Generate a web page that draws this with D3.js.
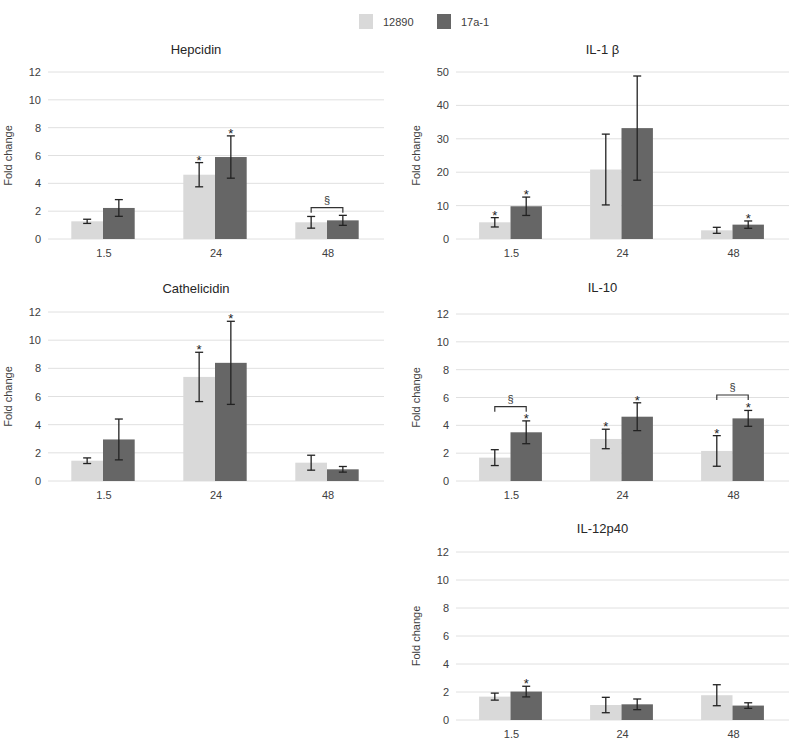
<!DOCTYPE html>
<html><head>
<meta charset="utf-8">
<script src="https://d3js.org/d3.v7.min.js"></script>
<style>
  body { margin: 0; background: #fff; }
  svg { font-family: "Liberation Sans", Arial, sans-serif; }
  .grid line { stroke: #e0e0e0; stroke-width: 1px; }
  .tick-label { font-size: 11px; fill: #404040; }
  .title { font-size: 13px; fill: #262626; }
</style>
</head>
<body>
<svg id="chart" width="803" height="740"></svg>
<script>
// categories (hours) and strains
const categories = ["1.5", "24", "48"];
const series = ["12890", "17a-1"];
const seriesColors = ["#d9d9d9", "#666666"];

// Hepcidin
const hepcidinMean = [[1.27, 4.62, 1.20], [2.23, 5.89, 1.34]];
const hepcidinErr = [[0.15, 0.87, 0.42], [0.60, 1.52, 0.36]];
const hepcidinStars = [[false, true, false], [false, true, false]];
const hepcidinBrackets = [{ cat: 2, y: 2.25 }];

// IL-1 beta
const il1Mean = [[5.0, 20.8, 2.6], [9.8, 33.2, 4.3]];
const il1Err = [[1.4, 10.6, 0.9], [2.75, 15.6, 1.1]];
const il1Stars = [[true, false, false], [true, false, true]];
const il1Brackets = [];

// Cathelicidin
const cathMean = [[1.44, 7.39, 1.30], [2.95, 8.39, 0.83]];
const cathErr = [[0.20, 1.75, 0.53], [1.45, 2.95, 0.20]];
const cathStars = [[false, true, false], [false, true, false]];
const cathBrackets = [];

// IL-10
const il10Mean = [[1.68, 3.02, 2.16], [3.50, 4.62, 4.50]];
const il10Err = [[0.57, 0.70, 1.10], [0.82, 1.00, 0.57]];
const il10Stars = [[false, true, true], [true, true, true]];
const il10Brackets = [{ cat: 0, y: 5.34 }, { cat: 2, y: 6.18 }];

// IL-12p40
const il12Mean = [[1.67, 1.07, 1.77], [2.03, 1.12, 1.03]];
const il12Err = [[0.25, 0.55, 0.75], [0.38, 0.38, 0.20]];
const il12Stars = [[false, false, false], [true, false, false]];
const il12Brackets = [];

const ticks12 = [0, 2, 4, 6, 8, 10, 12];
const ticks50 = [0, 10, 20, 30, 40, 50];

const svg = d3.select("#chart");

// legend
const legend = svg.append("g");
series.forEach((s, i) => {
  const lx = 359 + i * 78;
  legend.append("rect").attr("x", lx).attr("y", 14).attr("width", 14).attr("height", 15)
    .attr("fill", seriesColors[i]);
  legend.append("text").attr("x", lx + 24).attr("y", 26).attr("class", "tick-label").text(s);
});

function drawPanel(p) {
  const g = svg.append("g");
  const y = d3.scaleLinear().domain([0, p.max]).range([p.bottom, p.top]);
  const x = d3.scaleBand().domain(categories).range([p.left, p.right]);
  const step = x.step();
  const barW = step * 0.283;
  const barX = (ci, si) => x(categories[ci]) + step / 2 - barW + si * barW - 1;

  g.append("text").attr("class", "title").attr("text-anchor", "middle")
    .attr("x", (p.left + p.right) / 2 - 20).attr("y", p.titleY).text(p.title);

  // gridlines + y tick labels
  const grid = g.append("g").attr("class", "grid");
  grid.selectAll("line").data(p.ticks).join("line")
    .attr("x1", p.left).attr("x2", p.right)
    .attr("y1", d => y(d)).attr("y2", d => y(d));
  g.selectAll("text.ytick").data(p.ticks).join("text")
    .attr("class", "tick-label ytick").attr("text-anchor", "end")
    .attr("x", p.left - 7).attr("y", d => y(d) + 4).text(d => d);

  g.append("text").attr("class", "tick-label").attr("text-anchor", "middle")
    .attr("transform", `translate(${p.left - 36},${(p.top + p.bottom) / 2}) rotate(-90)`)
    .text("Fold change");

  // x labels
  g.selectAll("text.xtick").data(categories).join("text")
    .attr("class", "tick-label xtick").attr("text-anchor", "middle")
    .attr("x", d => x(d) + step / 2).attr("y", p.bottom + 18).text(d => d);

  // bars and error bars
  series.forEach((s, si) => {
    const bars = categories.map((c, ci) => ({ ci, v: p.mean[si][ci], e: p.err[si][ci], star: p.stars[si][ci] }));
    g.selectAll(null).data(bars).join("rect")
      .attr("x", d => barX(d.ci, si)).attr("width", barW)
      .attr("y", d => y(d.v)).attr("height", d => y(0) - y(d.v))
      .attr("fill", seriesColors[si]);
    const eb = g.selectAll(null).data(bars).join("g")
      .attr("stroke", "#222").attr("stroke-width", 1.3);
    const cx = d => barX(d.ci, si) + barW / 2;
    eb.append("line").attr("x1", cx).attr("x2", cx)
      .attr("y1", d => y(d.v + d.e)).attr("y2", d => y(Math.max(0, d.v - d.e)));
    eb.append("line").attr("x1", d => cx(d) - 4).attr("x2", d => cx(d) + 4)
      .attr("y1", d => y(d.v + d.e)).attr("y2", d => y(d.v + d.e));
    eb.append("line").attr("x1", d => cx(d) - 4).attr("x2", d => cx(d) + 4)
      .attr("y1", d => y(Math.max(0, d.v - d.e))).attr("y2", d => y(Math.max(0, d.v - d.e)));
    g.selectAll(null).data(bars.filter(d => d.star)).join("text")
      .attr("text-anchor", "middle").attr("font-size", 13).attr("fill", "#222")
      .attr("x", cx).attr("y", d => y(d.v + d.e) + 2).text("*");
  });

  // significance brackets between strains
  p.brackets.forEach(b => {
    const xa = barX(b.cat, 0) + barW / 2, xb = barX(b.cat, 1) + barW / 2, by = y(b.y);
    g.append("path").attr("fill", "none").attr("stroke", "#333").attr("stroke-width", 1.2)
      .attr("d", `M${xa},${by + 5}V${by}H${xb}V${by + 5}`);
    g.append("text").attr("text-anchor", "middle").attr("font-size", 11).attr("fill", "#333")
      .attr("x", (xa + xb) / 2).attr("y", by - 4).text("§");
  });
}

drawPanel({ title: "Hepcidin", max: 12, ticks: ticks12, left: 48, right: 384, top: 72, bottom: 239, titleY: 54,
  mean: hepcidinMean, err: hepcidinErr, stars: hepcidinStars, brackets: hepcidinBrackets });
drawPanel({ title: "IL-1 β", max: 50, ticks: ticks50, left: 456, right: 789, top: 72, bottom: 239, titleY: 54,
  mean: il1Mean, err: il1Err, stars: il1Stars, brackets: il1Brackets });
drawPanel({ title: "Cathelicidin", max: 12, ticks: ticks12, left: 48, right: 384, top: 312, bottom: 481, titleY: 293,
  mean: cathMean, err: cathErr, stars: cathStars, brackets: cathBrackets });
drawPanel({ title: "IL-10", max: 12, ticks: ticks12, left: 456, right: 789, top: 314, bottom: 481, titleY: 292,
  mean: il10Mean, err: il10Err, stars: il10Stars, brackets: il10Brackets });
drawPanel({ title: "IL-12p40", max: 12, ticks: ticks12, left: 456, right: 789, top: 552, bottom: 720, titleY: 533,
  mean: il12Mean, err: il12Err, stars: il12Stars, brackets: il12Brackets });
</script>
</body></html>
